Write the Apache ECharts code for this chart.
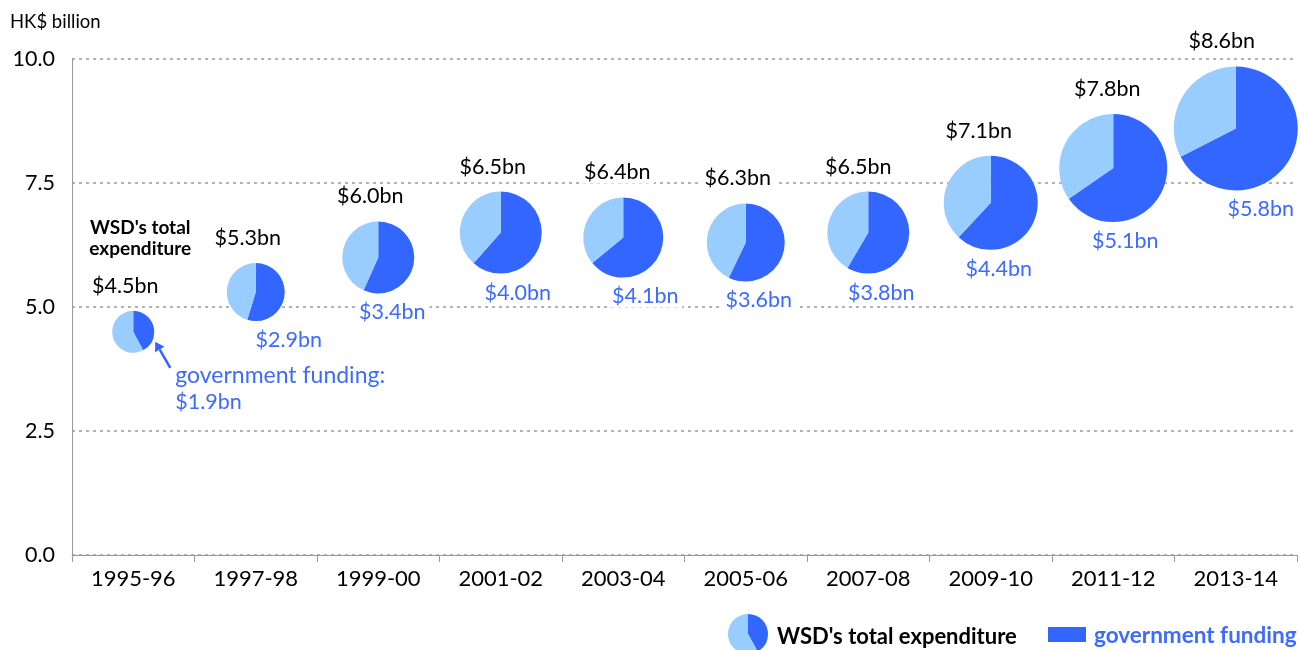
<!DOCTYPE html>
<html><head><meta charset="utf-8">
<script src="https://cdn.jsdelivr.net/npm/echarts@6/dist/echarts.min.js"></script>
<style>html,body{margin:0;padding:0;background:#fff}#c{width:1300px;height:650px}</style>
</head><body><div id="c"></div>
<script>
const categories = ['1995-96','1997-98','1999-00','2001-02','2003-04','2005-06','2007-08','2009-10','2011-12','2013-14'];
const totalExpenditure = [4.5, 5.3, 6.0, 6.5, 6.4, 6.3, 6.5, 7.1, 7.8, 8.6];
const governmentFunding = [1.9, 2.9, 3.4, 4.0, 4.1, 3.6, 3.8, 4.4, 5.1, 5.8];
const yTicks = [0, 2.5, 5, 7.5, 10];
const yUnit = 'HK$ billion';

// layout tweaks (label offsets in px relative to each pie)
const totalLabelDx = [-8, -8, -8, -8, -6, -8, -10, -12, -6, -14];
const govLabelDx = [0, 33, 14, 17, 22, 13, 13, 8, 12, 25];

const DARK = '#3366FF', LIGHT = '#99CCFF', LABEL_BLUE = '#3D6BFF';
const FONT = 'Lato, "Noto Sans", sans-serif';
const radiusOf = v => 10 * (v - 2.4);

const seriesData = categories.map((c, i) => [i, totalExpenditure[i], governmentFunding[i]]);

function renderItem(params, api) {
  const i = params.dataIndex;
  const total = api.value(1), gov = api.value(2);
  const c = api.coord([api.value(0), total]);
  const cx = c[0], cy = c[1];
  const r = radiusOf(total);
  const a0 = -Math.PI / 2, a1 = a0 + 2 * Math.PI * gov / total;
  const children = [
    {type: 'sector', shape: {cx, cy, r0: 0, r, startAngle: a0, endAngle: a1, clockwise: true}, style: {fill: DARK}},
    {type: 'sector', shape: {cx, cy, r0: 0, r, startAngle: a1, endAngle: a0 + 2 * Math.PI, clockwise: true}, style: {fill: LIGHT}},
    {type: 'text', x: cx + totalLabelDx[i], y: cy - r - 25, z2: 10,
     style: {text: '$' + total.toFixed(1) + 'bn', font: '21.5px ' + FONT, fill: '#000', align: 'center', verticalAlign: 'middle', backgroundColor: '#fff', padding: [0, 4]}}
  ];
  if (i === 0) {
    const tip = [cx + 22, cy + 10], tail = [cx + 37, cy + 36];
    const dx = tip[0] - tail[0], dy = tip[1] - tail[1], len = Math.hypot(dx, dy);
    const ux = dx / len, uy = dy / len, px = -uy, py = ux, s = 9;
    const base = [tip[0] - ux * s, tip[1] - uy * s];
    children.push(
      {type: 'line', shape: {x1: tail[0], y1: tail[1], x2: base[0], y2: base[1]}, style: {stroke: DARK, lineWidth: 2.5}},
      {type: 'polygon', shape: {points: [tip, [base[0] + px * 5.5, base[1] + py * 5.5], [base[0] - px * 5.5, base[1] - py * 5.5]]}, style: {fill: DARK}},
      {type: 'text', x: cx + 42, y: cy + 44, style: {text: 'government funding:', font: '23px ' + FONT, fill: LABEL_BLUE, align: 'left', verticalAlign: 'middle'}},
      {type: 'text', x: cx + 42, y: cy + 70, style: {text: '$' + gov.toFixed(1) + 'bn', font: '21.5px ' + FONT, fill: LABEL_BLUE, align: 'left', verticalAlign: 'middle'}},
      {type: 'text', x: cx + 7, y: cy - 104, style: {text: "WSD's total", font: 'bold 19px ' + FONT, fill: '#000', align: 'center', verticalAlign: 'middle'}},
      {type: 'text', x: cx + 7, y: cy - 83, style: {text: 'expenditure', font: 'bold 19px ' + FONT, fill: '#000', align: 'center', verticalAlign: 'middle'}}
    );
  } else {
    children.push({type: 'text', x: cx + govLabelDx[i], y: cy + r + 19, z2: 10,
      style: {text: '$' + gov.toFixed(1) + 'bn', font: '21.5px ' + FONT, fill: LABEL_BLUE, align: 'center', verticalAlign: 'middle', backgroundColor: '#fff', padding: [0, 4]}});
  }
  return {type: 'group', children};
}

const chart = echarts.init(document.getElementById('c'), null, {renderer: 'canvas'});
chart.setOption({
  animation: false,
  backgroundColor: '#fff',
  grid: {left: 72, right: 3, top: 59, bottom: 95, containLabel: false},
  xAxis: {
    type: 'category', data: categories, boundaryGap: true,
    axisLine: {lineStyle: {color: '#999', width: 1}},
    axisTick: {show: true, length: 7, lineStyle: {color: '#999'}},
    axisLabel: {color: '#000', fontSize: 22, fontFamily: FONT, margin: 13}
  },
  yAxis: {
    type: 'value', min: yTicks[0], max: yTicks[yTicks.length - 1], interval: yTicks[1] - yTicks[0],
    axisLine: {show: true, lineStyle: {color: '#999', width: 1}},
    axisTick: {show: false},
    axisLabel: {color: '#000', fontSize: 21.5, fontFamily: FONT, margin: 17, formatter: v => v.toFixed(1)},
    splitLine: {show: true, lineStyle: {color: '#999', type: [3, 4], width: 1.5}}
  },
  graphic: [
    {type: 'text', left: 10, top: 13, style: {text: yUnit, font: '18.5px ' + FONT, fill: '#000'}},
    {type: 'group', left: 728, top: 614, children: [
      {type: 'sector', shape: {cx: 20, cy: 20, r0: 0, r: 20, startAngle: -Math.PI / 2, endAngle: -Math.PI / 2 + 2 * Math.PI * 0.42, clockwise: true}, style: {fill: DARK}},
      {type: 'sector', shape: {cx: 20, cy: 20, r0: 0, r: 20, startAngle: -Math.PI / 2 + 2 * Math.PI * 0.42, endAngle: 1.5 * Math.PI, clockwise: true}, style: {fill: LIGHT}}
    ]},
    {type: 'text', left: 777, top: 626, style: {text: "WSD's total expenditure", font: 'bold 22px ' + FONT, fill: '#000'}},
    {type: 'rect', left: 1048, top: 627, shape: {width: 38, height: 15}, style: {fill: DARK}},
    {type: 'text', left: 1094, top: 624, style: {text: 'government funding', font: 'bold 22.5px ' + FONT, fill: LABEL_BLUE}}
  ],
  series: [{
    type: 'custom', renderItem, data: seriesData,
    encode: {x: 0, y: 1}, clip: false
  }]
});
</script></body></html>
